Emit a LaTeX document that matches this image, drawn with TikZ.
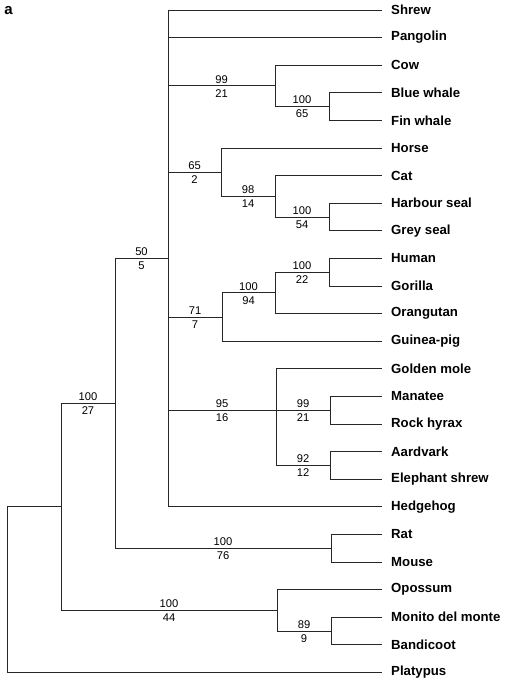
\documentclass[tikz,border=0pt]{standalone}
\usepackage{fontspec}
\setmainfont{Liberation Sans}
\begin{document}
\begin{tikzpicture}[x=1pt,y=-1pt,
  branch/.style={draw=black!85,line width=0.9pt},
  leaflabel/.style={anchor=west,inner sep=0pt,font=\fontsize{13.2}{15}\selectfont\bfseries},
  upnum/.style={pos=0.75,yshift=6.5pt,inner sep=0pt,font=\fontsize{11.2}{12}\selectfont},
  dnnum/.style={pos=0.75,yshift=-7.5pt,inner sep=0pt,font=\fontsize{11.2}{12}\selectfont}]
\useasboundingbox (0,0) rectangle (508,685);
\newcommand\leafnode[3]{\coordinate (#1) at (382,#2); \node[leaflabel] (#1-l) at (391,#2) {#3};}
% leaves
\leafnode{shrew}{10}{Shrew}
\leafnode{pangolin}{37.6}{Pangolin}
\leafnode{cow}{65.2}{Cow}
\leafnode{bluewhale}{92.8}{Blue whale}
\leafnode{finwhale}{120.4}{Fin whale}
\leafnode{horse}{148}{Horse}
\leafnode{cat}{175.6}{Cat}
\leafnode{harbourseal}{203.2}{Harbour seal}
\leafnode{greyseal}{230.8}{Grey seal}
\leafnode{human}{258.4}{Human}
\leafnode{gorilla}{286}{Gorilla}
\leafnode{orangutan}{313.6}{Orangutan}
\leafnode{guineapig}{341.2}{Guinea-pig}
\leafnode{goldenmole}{368.8}{Golden mole}
\leafnode{manatee}{396.4}{Manatee}
\leafnode{rockhyrax}{424}{Rock hyrax}
\leafnode{aardvark}{451.6}{Aardvark}
\leafnode{eshrew}{479.2}{Elephant shrew}
\leafnode{hedgehog}{506.8}{Hedgehog}
\leafnode{rat}{534.4}{Rat}
\leafnode{mouse}{562}{Mouse}
\leafnode{opossum}{589.6}{Opossum}
\leafnode{monito}{617.2}{Monito del monte}
\leafnode{bandicoot}{644.8}{Bandicoot}
\leafnode{platypus}{672.4}{Platypus}
% internal nodes
\coordinate (root) at (7,506.8);
\coordinate (A) at (61,506.8);
\coordinate (B) at (115,403.3);
\coordinate (C) at (168,258.4);
\coordinate (CW) at (275,85.9);
\coordinate (WH) at (329,106.6);
\coordinate (HS) at (221,172.2);
\coordinate (CS) at (275,196.3);
\coordinate (SE) at (329,217);
\coordinate (PG) at (222,317);
\coordinate (PR) at (275,292.9);
\coordinate (HG) at (329,272.2);
\coordinate (AF) at (276,410.2);
\coordinate (MH) at (330,410.2);
\coordinate (AE) at (330,465.4);
\coordinate (RM) at (331,548.2);
\coordinate (M) at (277,610.3);
\coordinate (MB) at (331,631);
% node label
\node[font=\fontsize{15}{15}\selectfont\bfseries,inner sep=0pt] (panel) at (8.5,11) {a};
% branches
\draw[branch] (root) -- (A);
\draw[branch] (root) |- (platypus);
\draw[branch] (A) |- (B) node[upnum]{100} node[dnnum]{27};
\draw[branch] (A) |- (M) node[upnum]{100} node[dnnum]{44};
\draw[branch] (B) |- (C) node[upnum]{50} node[dnnum]{5};
\draw[branch] (B) |- (RM) node[upnum]{100} node[dnnum]{76};
\draw[branch] (C) |- (shrew);
\draw[branch] (C) |- (pangolin);
\draw[branch] (C) |- (CW) node[upnum]{99} node[dnnum]{21};
\draw[branch] (C) |- (HS) node[upnum]{65} node[dnnum]{2};
\draw[branch] (C) |- (PG) node[upnum]{71} node[dnnum]{7};
\draw[branch] (C) |- (AF) node[upnum]{95} node[dnnum]{16};
\draw[branch] (C) |- (hedgehog);
\draw[branch] (CW) |- (cow);
\draw[branch] (CW) |- (WH) node[upnum]{100} node[dnnum]{65};
\draw[branch] (WH) |- (bluewhale);
\draw[branch] (WH) |- (finwhale);
\draw[branch] (HS) |- (horse);
\draw[branch] (HS) |- (CS) node[upnum]{98} node[dnnum]{14};
\draw[branch] (CS) |- (cat);
\draw[branch] (CS) |- (SE) node[upnum]{100} node[dnnum]{54};
\draw[branch] (SE) |- (harbourseal);
\draw[branch] (SE) |- (greyseal);
\draw[branch] (PG) |- (PR) node[upnum]{100} node[dnnum]{94};
\draw[branch] (PG) |- (guineapig);
\draw[branch] (PR) |- (HG) node[upnum]{100} node[dnnum]{22};
\draw[branch] (PR) |- (orangutan);
\draw[branch] (HG) |- (human);
\draw[branch] (HG) |- (gorilla);
\draw[branch] (AF) |- (goldenmole);
\draw[branch] (AF) |- (MH) node[upnum]{99} node[dnnum]{21};
\draw[branch] (AF) |- (AE) node[upnum]{92} node[dnnum]{12};
\draw[branch] (MH) |- (manatee);
\draw[branch] (MH) |- (rockhyrax);
\draw[branch] (AE) |- (aardvark);
\draw[branch] (AE) |- (eshrew);
\draw[branch] (RM) |- (rat);
\draw[branch] (RM) |- (mouse);
\draw[branch] (M) |- (opossum);
\draw[branch] (M) |- (MB) node[upnum]{89} node[dnnum]{9};
\draw[branch] (MB) |- (monito);
\draw[branch] (MB) |- (bandicoot);
\end{tikzpicture}
\end{document}
